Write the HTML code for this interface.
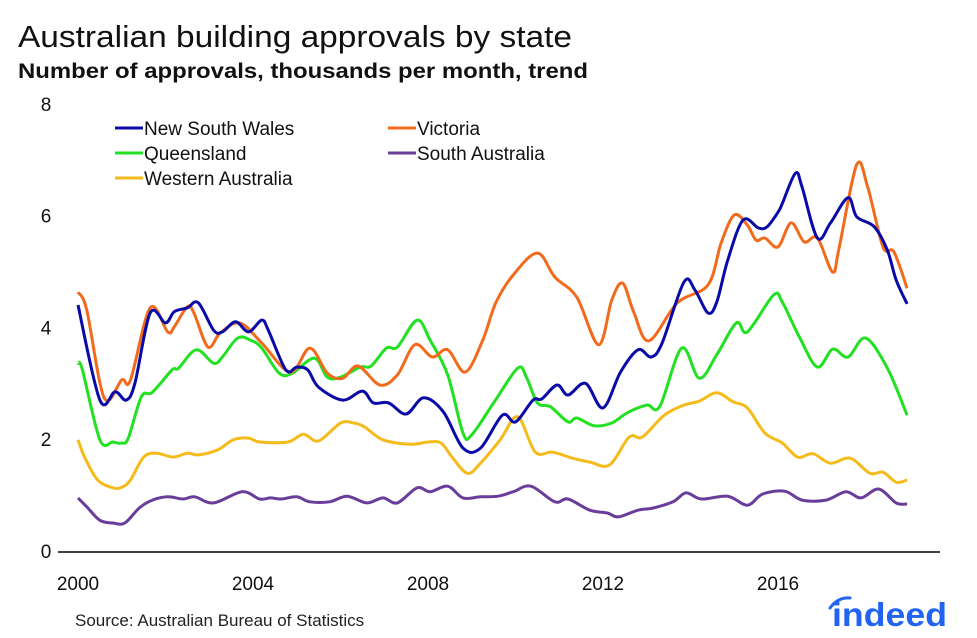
<!DOCTYPE html>
<html><head><meta charset="utf-8"><style>
body{margin:0;background:#fff;}
svg{display:block;font-family:"Liberation Sans",Arial,sans-serif;}
</style></head><body>
<svg id="chart" width="977" height="638" viewBox="0 0 977 638">
<text x="18" y="47" font-size="31" fill="#111" textLength="554" lengthAdjust="spacingAndGlyphs">Australian building approvals by state</text>
<text x="18" y="78" font-size="21" font-weight="bold" fill="#111" textLength="570" lengthAdjust="spacingAndGlyphs">Number of approvals, thousands per month, trend</text>
<g id="yaxis"></g>
<g id="xaxis"></g>
<g id="series"></g>
<g id="legend"></g>
<text x="75" y="626" font-size="17" fill="#222">Source: Australian Bureau of Statistics</text>
<g>
<text x="832" y="626" font-size="33" font-weight="bold" fill="#2164f3" textLength="115" lengthAdjust="spacingAndGlyphs">indeed</text>
<path d="M830,608 Q838,597 850,598" stroke="#2164f3" stroke-width="3" fill="none" stroke-linecap="round"/>
</g>
</svg>
<script>
const yTicks=[0,2,4,6,8];
const xTicks=[2000,2004,2008,2012,2016];
const seriesNames=["New South Wales","Victoria","Queensland","South Australia","Western Australia"];
const nswYears=[2000.0,2000.5,2000.85,2001.1,2001.3,2001.65,2002.0,2002.2,2002.5,2002.75,2003.1,2003.3,2003.6,2003.9,2004.2,2004.35,2004.75,2005.0,2005.25,2005.5,2006.05,2006.5,2006.75,2007.1,2007.5,2007.9,2008.35,2008.8,2009.2,2009.7,2010.0,2010.4,2010.6,2010.95,2011.2,2011.6,2012.0,2012.4,2012.8,2013.1,2013.35,2013.85,2014.1,2014.4,2014.6,2014.85,2015.2,2015.55,2015.75,2016.0,2016.1,2016.4,2016.55,2016.9,2017.2,2017.6,2017.8,2018.2,2018.5,2018.7,2018.95];
const nswValues=[4.40,2.70,2.85,2.70,3.00,4.26,4.08,4.28,4.35,4.44,3.95,3.92,4.10,3.92,4.13,3.95,3.24,3.29,3.24,2.93,2.70,2.86,2.65,2.65,2.45,2.74,2.49,1.84,1.84,2.43,2.31,2.70,2.72,2.97,2.79,3.00,2.56,3.20,3.60,3.47,3.72,4.81,4.67,4.26,4.45,5.20,5.92,5.78,5.80,6.06,6.22,6.76,6.51,5.60,5.87,6.32,5.98,5.80,5.38,4.85,4.42];
const vicYears=[2000.0,2000.2,2000.6,2001.0,2001.2,2001.65,2002.05,2002.2,2002.5,2002.65,2002.97,2003.25,2003.7,2004.2,2004.85,2005.3,2005.7,2006.05,2006.4,2006.9,2007.3,2007.7,2008.1,2008.45,2008.85,2009.25,2009.55,2009.95,2010.5,2010.9,2011.4,2011.9,2012.2,2012.45,2012.7,2013.05,2013.7,2014.4,2014.7,2015.0,2015.3,2015.5,2015.7,2016.0,2016.3,2016.6,2016.9,2017.25,2017.4,2017.8,2018.05,2018.4,2018.65,2018.95];
const vicValues=[4.63,4.31,2.74,3.06,3.06,4.35,3.92,4.01,4.37,4.26,3.65,3.90,4.08,3.72,3.20,3.63,3.18,3.09,3.31,2.97,3.15,3.69,3.47,3.60,3.20,3.77,4.44,4.94,5.33,4.90,4.54,3.69,4.49,4.79,4.28,3.76,4.44,4.76,5.51,6.01,5.83,5.56,5.60,5.44,5.87,5.53,5.60,4.99,5.44,6.91,6.51,5.44,5.35,4.70];
const qldYears=[2000.0,2000.1,2000.5,2000.8,2001.0,2001.15,2001.45,2001.7,2002.15,2002.3,2002.7,2003.1,2003.3,2003.65,2003.95,2004.2,2004.6,2004.9,2005.4,2005.7,2006.0,2006.45,2006.7,2007.05,2007.3,2007.75,2008.05,2008.45,2008.8,2009.0,2009.5,2010.05,2010.25,2010.5,2010.8,2011.2,2011.4,2011.8,2012.2,2012.55,2013.0,2013.3,2013.8,2014.2,2014.6,2015.05,2015.3,2015.9,2016.1,2016.5,2016.9,2017.25,2017.6,2018.0,2018.5,2018.95];
const qldValues=[3.36,3.24,1.99,1.95,1.93,2.02,2.76,2.84,3.24,3.27,3.60,3.36,3.47,3.81,3.77,3.63,3.18,3.18,3.45,3.11,3.11,3.29,3.31,3.63,3.65,4.13,3.77,3.15,2.11,2.08,2.65,3.27,3.11,2.65,2.58,2.31,2.38,2.24,2.29,2.47,2.61,2.59,3.63,3.09,3.51,4.08,3.92,4.58,4.45,3.81,3.29,3.61,3.47,3.81,3.27,2.43];
const saYears=[2000.0,2000.2,2000.5,2000.8,2001.07,2001.4,2001.7,2002.05,2002.4,2002.67,2003.1,2003.75,2004.15,2004.4,2004.65,2005.0,2005.3,2005.75,2006.15,2006.6,2006.97,2007.3,2007.75,2008.05,2008.45,2008.8,2009.2,2009.6,2009.95,2010.35,2010.9,2011.2,2011.7,2012.1,2012.35,2012.8,2013.15,2013.6,2013.9,2014.25,2014.85,2015.3,2015.65,2016.15,2016.55,2017.1,2017.55,2017.9,2018.3,2018.7,2018.95];
const saValues=[0.95,0.79,0.55,0.50,0.50,0.77,0.91,0.97,0.93,0.97,0.86,1.06,0.93,0.95,0.93,0.97,0.88,0.88,0.98,0.86,0.95,0.86,1.13,1.06,1.16,0.95,0.97,0.98,1.06,1.16,0.88,0.93,0.73,0.68,0.61,0.73,0.77,0.88,1.04,0.93,0.98,0.82,1.02,1.07,0.91,0.91,1.06,0.95,1.11,0.86,0.84];
const waYears=[2000.0,2000.15,2000.45,2000.8,2001.0,2001.2,2001.5,2001.8,2002.17,2002.5,2002.75,2003.2,2003.55,2003.9,2004.15,2004.8,2005.15,2005.5,2006.0,2006.3,2006.55,2006.97,2007.6,2008.0,2008.3,2008.55,2008.9,2009.2,2009.65,2010.05,2010.45,2010.85,2011.3,2011.7,2012.15,2012.6,2012.9,2013.4,2013.85,2014.2,2014.6,2014.97,2015.3,2015.7,2016.1,2016.45,2016.8,2017.2,2017.65,2018.1,2018.4,2018.7,2018.95];
const waValues=[1.99,1.68,1.27,1.13,1.14,1.27,1.68,1.75,1.68,1.75,1.72,1.81,1.99,2.02,1.95,1.95,2.09,1.97,2.29,2.29,2.22,1.99,1.91,1.95,1.93,1.68,1.39,1.57,1.99,2.40,1.77,1.77,1.66,1.59,1.54,2.04,2.04,2.43,2.61,2.68,2.83,2.67,2.56,2.11,1.93,1.68,1.74,1.57,1.66,1.39,1.41,1.23,1.27];

const NS="http://www.w3.org/2000/svg";
const X0=78, PX_PER_YEAR=43.75, Y0=551, PX_PER_UNIT=55.9;
function xScale(yr){return X0+(yr-2000)*PX_PER_YEAR;}
function yScale(v){return Y0-v*PX_PER_UNIT;}
function mk(tag,attrs,parent){const e=document.createElementNS(NS,tag);for(const k in attrs)e.setAttribute(k,attrs[k]);parent.appendChild(e);return e;}

const yAxis=document.getElementById('yaxis');
yTicks.forEach(t=>{
  const e=mk('text',{x:46,y:yScale(t)+7,'font-size':19,'text-anchor':'middle',fill:'#111'},yAxis);
  e.textContent=String(t);
  
  
});
const xAxis=document.getElementById('xaxis');
const axisLine=mk('line',{x1:58,x2:940,y1:Y0+1,y2:Y0+1,stroke:'#000','stroke-width':1.5},xAxis);


xTicks.forEach(t=>{
  const e=mk('text',{x:xScale(t),y:590,'font-size':19,'text-anchor':'middle',fill:'#111'},xAxis);
  e.textContent=String(t);
  
  
});

function smoothPath(xs,vs){
  const p=xs.map((x,i)=>[xScale(x),yScale(vs[i])]);
  let d='M'+p[0][0].toFixed(1)+','+p[0][1].toFixed(1);
  for(let i=0;i<p.length-1;i++){
    const p0=p[i-1]||p[i],p1=p[i],p2=p[i+1],p3=p[i+2]||p2;
    const c1=[p1[0]+(p2[0]-p0[0])/6,p1[1]+(p2[1]-p0[1])/6];
    const c2=[p2[0]-(p3[0]-p1[0])/6,p2[1]-(p3[1]-p1[1])/6];
    d+=' C'+c1[0].toFixed(1)+','+c1[1].toFixed(1)+' '+c2[0].toFixed(1)+','+c2[1].toFixed(1)+' '+p2[0].toFixed(1)+','+p2[1].toFixed(1);
  }
  return d;
}
const seriesG=document.getElementById('series');
const defs=[
  [saYears,saValues,'#6a3d9a','line-south-australia'],
  [waYears,waValues,'#f5bb1b','line-western-australia'],
  [qldYears,qldValues,'#22e022','line-queensland'],
  [vicYears,vicValues,'#f26b1d','line-victoria'],
  [nswYears,nswValues,'#0a0aa8','line-new-south-wales']
];
defs.forEach(s=>{
  const e=mk('path',{d:smoothPath(s[0],s[1]),fill:'none',stroke:s[2],'stroke-width':3,'stroke-linejoin':'round'},seriesG);
  
  
});

const legendG=document.getElementById('legend');
const legendColors=['#0a0aa8','#f26b1d','#22e022','#6a3d9a','#f5bb1b'];
const legendPos=[[115,128],[388,128],[115,153],[388,153],[115,178]];
seriesNames.forEach((n,i)=>{
  const g=mk('g',{},legendG);
  
  
  const [lx,ly]=legendPos[i];
  mk('line',{x1:lx,x2:lx+28,y1:ly,y2:ly,stroke:legendColors[i],'stroke-width':3},g);
  const t=mk('text',{x:lx+29,y:ly+7,'font-size':19,fill:'#111'},g);
  t.textContent=n;
});
</script>
</body></html>
